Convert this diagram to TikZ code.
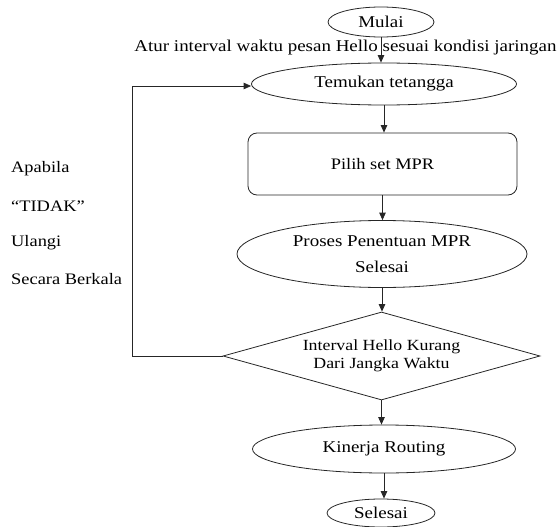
\documentclass[tikz,border=0pt]{standalone}
\usepackage{fontspec}
\setmainfont{Liberation Serif}[FakeStretch=1.15]
\usetikzlibrary{shapes.geometric,arrows.meta}
\begin{document}
\begin{tikzpicture}[x=1pt,y=1pt,
  line/.style={draw=black!85,line width=0.8pt},
  arr/.style={line,-{Triangle[length=7.5pt,width=6.5pt]}},
  ell/.style={ellipse,line,inner sep=0pt,font=\fontsize{16.5}{26}\selectfont,align=center},
  lbl/.style={font=\fontsize{16}{18}\selectfont,anchor=west,inner sep=0pt}]
\useasboundingbox (0,0) rectangle (557,-527);
\node[ell,minimum width=106,minimum height=30] (mulai) at (381,-22) {Mulai};
\node[font=\fontsize{16.5}{18}\selectfont,inner sep=0pt] (atur) at (345.5,-48) {Atur interval waktu pesan Hello sesuai kondisi jaringan};
\node[ell,minimum width=265,minimum height=42] (temu) at (384,-84) {Temukan tetangga};
\node[rectangle,rounded corners=9pt,line,minimum width=269,minimum height=62,font=\fontsize{16}{18}\selectfont] (pilih) at (382.5,-164) {Pilih set MPR};
\node[ell,minimum width=290,minimum height=67] (proses) at (382,-254) {Proses Penentuan MPR\\Selesai};
\node[diamond,aspect=3.6,line,minimum width=317,minimum height=88,inner sep=0pt,align=center,font=\fontsize{15.5}{17.5}\selectfont] (dec) at (381.5,-356) {Interval Hello Kurang\\Dari Jangka Waktu};
\node[ell,minimum width=263,minimum height=48] (kin) at (384,-449) {Kinerja Routing};
\node[ell,minimum width=108,minimum height=28] (sel) at (381,-513) {Selesai};
\node[lbl] (t1) at (11,-169) {Apabila};
\node[lbl] (t2) at (11,-206) {``TIDAK''};
\node[lbl] (t3) at (11,-243) {Ulangi};
\node[lbl] (t4) at (11,-279) {Secara Berkala};
\coordinate (cb) at (132,-356);
\coordinate (ct) at (132,-86);
\draw[arr] (mulai.south) -- (mulai.south |- temu.north);
\draw[arr] (temu.south) -- (temu.south |- pilih.north);
\draw[arr] (pilih.south) -- (pilih.south |- proses.north);
\draw[arr] (proses.south) -- (proses.south |- dec.north);
\draw[arr] (dec.south) -- (dec.south |- kin.north);
\draw[arr] (kin.south) -- (kin.south |- sel.north);
\draw[arr] (dec.west) -- (cb) -- (ct) -- (temu.west |- ct);
\end{tikzpicture}
\end{document}
